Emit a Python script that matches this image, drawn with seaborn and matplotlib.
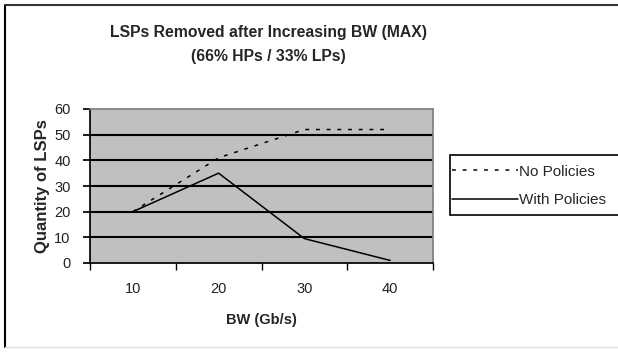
import matplotlib
matplotlib.use("Agg")
import matplotlib.pyplot as plt
from matplotlib.patches import Rectangle
from matplotlib.lines import Line2D
import seaborn as sns
import pandas as pd

bw = [10, 20, 30, 40]
no_policies = [20, 41, 52, 52]
with_policies = [20, 35, 9.5, 1]
series_names = ["No Policies", "With Policies"]

sns.set_theme(style="white")
plt.rcParams['font.family'] = ['Liberation Sans', 'DejaVu Sans']

df = pd.DataFrame({
    "BW": bw * 2,
    "LSPs": no_policies + with_policies,
    "Series": [series_names[0]] * len(bw) + [series_names[1]] * len(bw),
})

fig = plt.figure(figsize=(6.18, 3.52), dpi=100)
ax = fig.add_axes([90/618, 1-263/352, (433-90)/618, (263-109)/352])
ax.set_facecolor("#c0c0c0")

sns.lineplot(data=df, x="BW", y="LSPs", hue="Series", style="Series",
             palette=["black", "black"], dashes={series_names[0]: (2.5, 4.5), series_names[1]: ""},
             linewidth=1.1, ax=ax, legend=True)

ax.set_xlim(5, 45)
ax.set_ylim(0, 60)
ax.set_yticks(range(0, 61, 10))
ax.set_xticks(bw)
ax.set_xticks([5, 15, 25, 35, 45], minor=True)
ax.tick_params(axis="x", which="major", length=0, pad=14, labelsize=10.5, colors="#222222")
ax.tick_params(axis="x", which="minor", length=5, direction="out", color="black", bottom=True)
ax.tick_params(axis="y", length=5, direction="out", color="black", left=True, labelsize=10.5,
               colors="#222222", pad=9)
for y in range(10, 60, 10):
    ax.axhline(y, color="black", linewidth=1.5, zorder=1)
for s in ["top", "right"]:
    ax.spines[s].set_color("#808080")
for s in ["left", "bottom"]:
    ax.spines[s].set_color("black")
ax.set_xlabel("BW (Gb/s)", fontsize=10.5, fontweight="bold", labelpad=12)
ax.set_ylabel("Quantity of LSPs", fontsize=12, fontweight="bold", labelpad=3)

handles, labels = ax.get_legend_handles_labels()
ax.get_legend().remove()
leg = fig.legend(handles, labels, loc="center left", bbox_to_anchor=(452/618, 1-186/352),
                 bbox_transform=fig.transFigure, frameon=False,
                 fontsize=11, handlelength=4.3, handletextpad=0.1, borderpad=0.0,
                 labelspacing=0.95, borderaxespad=0)
leg.set_zorder(10)
fig.patches.append(Rectangle((450/618, 1-215/352), 200/618, 60/352, transform=fig.transFigure,
                             fill=True, facecolor="white", edgecolor="black", linewidth=1.2,
                             zorder=1))

fig.text(268/618, 1-33/352, "LSPs Removed after Increasing BW (MAX)", ha="center", va="center",
         fontsize=11.3, fontweight="bold")
fig.text(268/618, 1-56/352, "(66% HPs / 33% LPs)", ha="center", va="center",
         fontsize=11.3, fontweight="bold")

fig.lines.append(Line2D([5/618, 5/618], [1-347/352, 1-5/352], transform=fig.transFigure,
                        color="black", linewidth=1.5))
fig.lines.append(Line2D([5/618, 1], [1-5/352, 1-5/352], transform=fig.transFigure,
                        color="#333333", linewidth=1.5))
fig.lines.append(Line2D([5/618, 1], [1-347/352, 1-347/352], transform=fig.transFigure,
                        color="#dddddd", linewidth=1.0))

fig.savefig("out.png", dpi=100)
